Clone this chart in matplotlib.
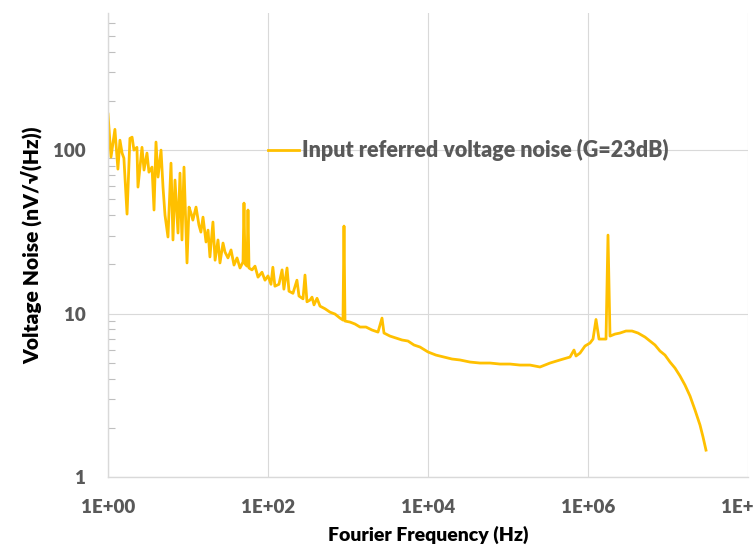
import numpy as np
import matplotlib.pyplot as plt
from matplotlib.ticker import LogLocator, FixedLocator, NullFormatter

# readings, frequency in Hz, noise in nV/sqrt(Hz)
freq = [1.0, 1.09, 1.22, 1.33, 1.41, 1.50, 1.58, 1.73, 1.88, 2.0, 2.11, 2.30, 2.37,
        2.66, 2.82, 3.07, 3.25, 3.55, 3.76, 3.98, 4.22, 4.60, 4.87, 5.16, 5.62, 6.13,
        6.49, 6.88, 7.50, 7.94, 8.41, 8.91, 9.72, 10.3, 10.9, 11.5, 12.6, 13.7, 14.5,
        15.4, 16.8, 17.8, 18.8, 20.5, 21.8, 23.7, 25.1, 27.4, 29.0, 31.6, 34.5, 37.6,
        41.0, 44.7, 48.7, 50.1, 51.6, 54.7, 56.2, 57.9, 63.1, 68.8, 75.0, 84.1, 91.7,
        100, 109, 115, 122, 137, 150, 158, 173, 183, 205, 230, 244, 274, 290, 307,
        335, 355, 376, 410, 447, 516, 596, 688, 794, 866, 891, 917, 1059, 1223, 1413,
        1679, 1995, 2371, 2661, 2818, 3350, 3981, 4732, 5623, 6683, 7943, 10000,
        12589, 15849, 19953, 25119, 33497, 44668, 59566, 79433, 105925, 141254,
        188365, 251189, 334965, 446684, 595662, 668344, 707946, 794328, 917276,
        1.059e6, 1.155e6, 1.259e6, 1.373e6, 1.496e6, 1.679e6, 1.778e6, 1.884e6,
        2.175e6, 2.512e6, 2.985e6, 3.548e6, 4.217e6, 5.16e6, 5.96e6, 6.88e6, 7.94e6,
        9.17e6, 1.059e7, 1.223e7, 1.413e7, 1.631e7, 1.884e7, 2.175e7, 2.512e7,
        2.738e7, 2.985e7]
noise = [166, 90.6, 134, 76.5, 115, 95.9, 89.3, 40.6, 118, 120, 100, 104, 59.4,
         104, 75.5, 95.9, 73.3, 78.7, 43.0, 112, 68.4, 100, 59.4, 40.0, 29.4, 83.2,
         28.2, 65.6, 31.1, 72.3, 28.2, 78.7, 20.4, 44.8, 41.2, 37.3, 44.8, 34.8, 31.5,
         38.9, 27.4, 32.4, 22.2, 36.3, 21.2, 28.2, 20.4, 27.0, 23.8, 21.9, 24.5, 19.8,
         21.9, 19.0, 20.7, 47.4, 20.1, 19.5, 43.0, 19.0, 18.5, 19.5, 16.7, 17.9, 16.0,
         17.0, 15.1, 19.2, 14.7, 15.1, 18.5, 14.1, 19.0, 13.7, 13.3, 16.0, 12.8, 12.3,
         17.2, 11.8, 12.1, 12.6, 11.3, 12.4, 11.1, 10.7, 10.2, 9.93, 9.38, 9.12, 34.3,
         9.00, 8.87, 8.63, 8.27, 8.27, 7.93, 7.70, 9.38, 7.60, 7.28, 7.08, 6.89, 6.79,
         6.42, 6.24, 5.82, 5.57, 5.42, 5.27, 5.20, 5.05, 4.98, 4.98, 4.91, 4.91, 4.84,
         4.84, 4.71, 4.98, 5.20, 5.42, 5.98, 5.50, 5.73, 6.33, 6.60, 6.98, 9.2, 6.98,
         6.98, 6.98, 30.2, 7.28, 7.49, 7.60, 7.82, 7.82, 7.60, 7.18, 6.79, 6.42, 5.90,
         5.57, 5.05, 4.64, 4.15, 3.65, 3.13, 2.57, 2.08, 1.76, 1.46]

x_ticks = [1e0, 1e2, 1e4, 1e6, 1e8]
x_labels = ['1E+00', '1E+02', '1E+04', '1E+06', '1E+08']
y_ticks = [1, 10, 100]
y_labels = ['1', '10', '100']

plt.rcParams['font.family'] = ['Lato', 'DejaVu Sans']
plt.rcParams['font.weight'] = 'heavy'

fig = plt.figure(figsize=(7.53, 5.5), dpi=100)
ax = fig.add_axes([108 / 753, 1 - 477 / 550, 640 / 753, 464 / 550])

ax.plot(freq, noise, color='#FFC000', lw=2.0,
        label='Input referred voltage noise (G=23dB)')

ax.set_xscale('log')
ax.set_yscale('log')
ax.set_xlim(1, 1e8)
ax.set_ylim(1, 690)

ax.xaxis.set_major_locator(FixedLocator(x_ticks))
ax.set_xticklabels(x_labels)
ax.xaxis.set_minor_locator(FixedLocator([]))
ax.yaxis.set_major_locator(FixedLocator(y_ticks))
ax.set_yticklabels(y_labels)
ax.yaxis.set_minor_locator(LogLocator(base=10, subs=np.arange(2, 10)))
ax.yaxis.set_minor_formatter(NullFormatter())

ax.tick_params(axis='both', which='major', length=0, pad=16,
               labelsize=13.5, labelcolor='#595959')
ax.tick_params(axis='y', which='minor', direction='in', length=5,
               width=0.8, color='#bfbfbf')

ax.grid(True, which='major', color='#d9d9d9', lw=0.8)
for s in ['top', 'right']:
    ax.spines[s].set_visible(False)
for s in ['left', 'bottom']:
    ax.spines[s].set_color('#d9d9d9')
    ax.spines[s].set_linewidth(1.0)

ax.set_xlabel('Fourier Frequency (Hz)', fontsize=14, fontweight='heavy',
              color='black', labelpad=7)
ax.set_ylabel('Voltage Noise (nV/√(Hz))', fontsize=15, fontweight='heavy',
              color='black', labelpad=8)

leg = ax.legend(loc='center left', bbox_to_anchor=(0.25, 0.7047), frameon=False,
                borderaxespad=0, borderpad=0, handlelength=1.45, handletextpad=0.15,
                prop={'size': 15.5, 'weight': 'heavy'})
for t in leg.get_texts():
    t.set_color('#595959')

fig.savefig('out.png', dpi=100)
